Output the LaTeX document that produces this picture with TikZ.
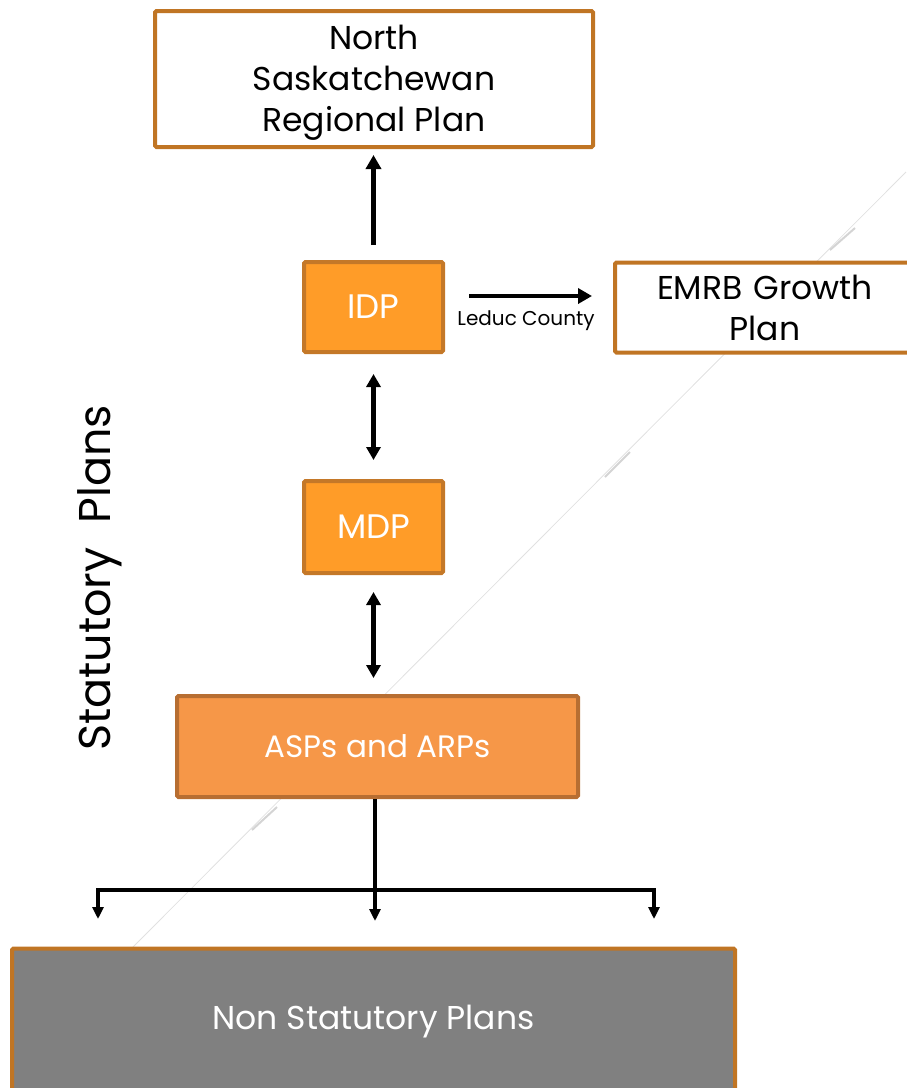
\documentclass[tikz,border=0pt]{standalone}
\usepackage{fontspec}
\setmainfont{Poppins}
\usetikzlibrary{arrows.meta}
\definecolor{boxedge}{RGB}{192,117,36}
\definecolor{idpfill}{RGB}{255,156,40}
\definecolor{idpedge}{RGB}{196,120,40}
\definecolor{aspfill}{RGB}{246,151,72}
\definecolor{aspedge}{RGB}{183,110,50}
\definecolor{nspfill}{RGB}{128,128,128}
\definecolor{deco}{RGB}{225,225,225}
\definecolor{decothick}{RGB}{212,212,212}
\tikzset{
  whitebox/.style={draw=boxedge, line width=4pt, fill=white, rounded corners=1.5pt, align=center, inner sep=0pt, font=\fontsize{33}{41}\selectfont},
  orangebox/.style={draw=idpedge, line width=4pt, fill=idpfill, rounded corners=1.5pt, align=center, inner sep=0pt, text=white, font=\fontsize{34}{40}\selectfont},
  aspbox/.style={draw=aspedge, line width=4pt, fill=aspfill, rounded corners=1.5pt, align=center, inner sep=0pt, text=white, font=\fontsize{31}{36}\selectfont},
  greybox/.style={draw=boxedge, line width=4pt, fill=nspfill, rounded corners=1.5pt, align=center, inner sep=0pt, text=white, font=\fontsize{33}{38}\selectfont},
  conn/.style={line width=4.5pt, -{Triangle[width=15pt,length=14pt]}},
  dconn/.style={line width=4.5pt, {Triangle[width=14pt,length=13pt]}-{Triangle[width=14pt,length=13pt]}},
  busline/.style={line width=4pt},
  busarrow/.style={line width=4pt, -{Triangle[width=11pt,length=12pt]}},
}
\begin{document}
\begin{tikzpicture}[x=1pt,y=-1pt]
\useasboundingbox (0,0) rectangle (906,1088);
% faint background decoration
\draw[deco, line width=0.8pt] (906,172) -- (133,947);
\draw[decothick, line width=2pt] (830,250) -- (855,228);
\draw[decothick, line width=2pt] (605,477) -- (630,452);
\draw[decothick, line width=2pt] (252,830) -- (277,807);

\node[whitebox, minimum width=438pt, minimum height=136pt] (nsrp) at (374,79) {};
\node[font=\fontsize{33}{41}\selectfont, align=center] (nsrptext) at (374,83) {North\\Saskatchewan\\Regional Plan};
\node[orangebox, minimum width=139pt, minimum height=90pt] (idp) at (373.5,307) {IDP};
\node[whitebox, minimum width=300pt, minimum height=90pt, text width=300pt] (emrb) at (765,307.5) {EMRB Growth\\Plan};
\node[orangebox, minimum width=139pt, minimum height=92pt] (mdp) at (373.5,527) {MDP};
\node[aspbox, minimum width=401pt, minimum height=101pt] (asps) at (377.5,746.5) {ASPs and ARPs};
\node[greybox, minimum width=723pt, minimum height=143pt] (nsp) at (373.5,1020) {};
\node[text=white, font=\fontsize{33}{38}\selectfont] (nsptext) at (373.5,1022) {Non Statutory Plans};

\node[rotate=90, font=\fontsize{44.5}{50}\selectfont] (stat) at (100,578) {Statutory\ \ Plans};
\node[font=\fontsize{20}{24}\selectfont] (leduc) at (526,321) {Leduc County};

\draw[conn, shorten <=15pt, shorten >=6pt] (idp.north) -- (idp.north |- nsrp.south);
\draw[conn, shorten <=24pt, shorten >=21pt] ([yshift=11pt]idp.east) -- ([yshift=11pt]idp.east -| emrb.west);
\draw[dconn, shorten <=20pt, shorten >=19pt] (idp.south) -- (mdp.north);
\draw[dconn, shorten <=17pt, shorten >=16pt] (mdp.south) -- (mdp.south |- asps.north);

\coordinate (bus) at (375,890);
\coordinate (busL) at (98,890);
\coordinate (busR) at (654,890);
\coordinate (endL) at (98,919);
\coordinate (endM) at (375,921);
\coordinate (endR) at (654,919);
\draw[busline] (asps.south -| bus) -- (bus);
\draw[busline] (busL) -- (busR);
\draw[busarrow] ([yshift=2pt]busL) -- (endL);
\draw[busarrow] (bus) -- (endM);
\draw[busarrow] ([yshift=2pt]busR) -- (endR);
\end{tikzpicture}
\end{document}
